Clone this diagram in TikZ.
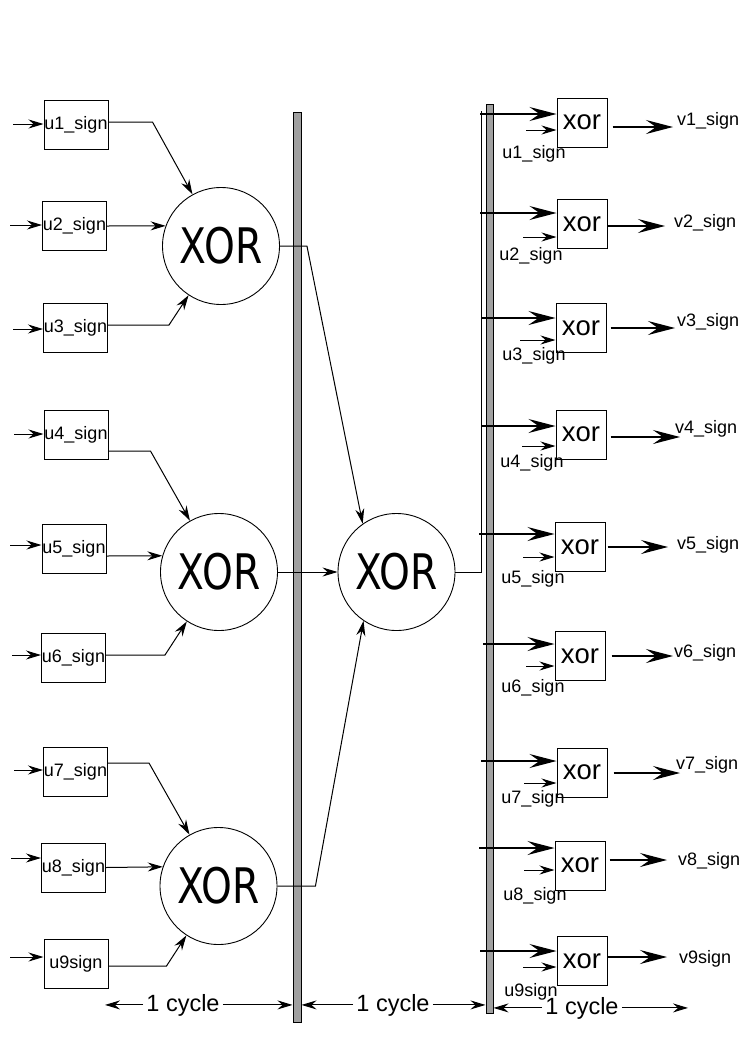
\documentclass[tikz,border=0pt]{standalone}
\usepackage{fontspec}
\setmainfont{Liberation Sans}
\newfontfamily\xorfont[FakeStretch=0.8]{DejaVu Sans}
\usetikzlibrary{arrows.meta}
\definecolor{bargray}{RGB}{160,160,160}
\begin{document}
\begin{tikzpicture}[x=1pt,y=-1pt,
  lbl/.style={font=\fontsize{18}{18}\selectfont, inner sep=0pt},
  inbox/.style={draw, line width=1pt, minimum width=64pt, minimum height=49pt, inner sep=0pt, font=\fontsize{18}{18}\selectfont},
  gate/.style={draw, circle, line width=0.9pt, minimum size=117pt, inner sep=0pt, font=\xorfont\fontsize{49}{49}\selectfont},
  xbox/.style={draw, line width=1pt, minimum width=50pt, minimum height=49pt, inner sep=0pt, font=\fontsize{27.5}{27.5}\selectfont},
  bar/.style={draw, line width=1pt, fill=bargray, inner sep=0pt},
  cyc/.style={font=\fontsize{23.5}{23.5}\selectfont, inner sep=3pt},
  conn/.style={line width=1pt},
  sa/.style={conn, -{Stealth[length=15pt,width=9pt,inset=5pt]}},
  ba/.style={conn, line width=1.3pt, -{Stealth[length=27pt,width=14pt,inset=10pt]}},
  ca/.style={conn, -{Stealth[length=15pt,width=9pt,inset=5pt]}}
]
\useasboundingbox (0,0) rectangle (745,1053);

% register bars
\node[bar, minimum width=8pt, minimum height=910pt] (lb) at (297,567) {};
\node[bar, minimum width=7pt, minimum height=909pt] (rb) at (489.5,558.5) {};

% input boxes
\node[inbox] (b1) at (76,124.5) {u1\_sign};
\node[inbox] (b2) at (74.5,226) {u2\_sign};
\node[inbox] (b3) at (75.5,328) {u3\_sign};
\node[inbox] (b4) at (76,435) {u4\_sign};
\node[inbox] (b5) at (74,548.5) {u5\_sign};
\node[inbox] (b6) at (73.5,657.5) {u6\_sign};
\node[inbox] (b7) at (75.5,772) {u7\_sign};
\node[inbox] (b8) at (73.5,867.5) {u8\_sign};
\node[inbox] (b9) at (76,963.5) {u9sign};

% gates
\node[gate] (c1) at (221,246) {XOR};
\node[gate] (c2) at (219,572) {XOR};
\node[gate] (c3) at (218.5,886) {XOR};
\node[gate] (cm) at (396.5,572) {XOR};

% input arrows
\coordinate (i1) at (13,124);
\coordinate (i2) at (10,225);
\coordinate (i3) at (13,329);
\coordinate (i4) at (14,434);
\coordinate (i5) at (10,545);
\coordinate (i6) at (12,655);
\coordinate (i7) at (14,770);
\coordinate (i8) at (11,858);
\coordinate (i9) at (10,957);
\foreach \k in {1,...,9} {\draw[sa] (i\k) -- (i\k -| b\k.west);}

% boxes to gates
\draw[sa] ([yshift=2.5pt]b1.east) -- ++(44,0) -- (c1);
\draw[sa] (b2.east) -- (c1.160);
\draw[sa] ([yshift=3pt]b3.east) -- ++(61,0) -- (c1);
\draw[sa] ([yshift=-16pt]b4.east) -- ++(42,0) -- (c2);
\draw[sa] ([yshift=-7.5pt]b5.east) -- (c2.164);
\draw[sa] ([yshift=2.5pt]b6.east) -- ++(59,0) -- (c2);
\draw[sa] ([yshift=9pt]b7.east) -- ++(41,0) -- (c3);
\draw[sa] (b8.east) -- (c3.161);
\draw[sa] ([yshift=-2.5pt]b9.east) -- ++(58,0) -- (c3);

% gates to middle gate
\draw[sa] (c1.east) -- ++(27,0) -- (cm.125);
\draw[sa] (c2.east) -- (cm.west);
\draw[sa] (c3.east) -- ++(38,0) -- (cm.236);

% middle output bus
\coordinate (bj) at (481,572);
\coordinate (bt) at (481,111);
\draw[conn] (cm.east) -- (bj) -- (bt);

% right xor boxes
\node[xbox] (x1) at (582,122.5) {xor};
\node[xbox] (x2) at (582,224) {xor};
\node[xbox] (x3) at (581,328) {xor};
\node[xbox] (x4) at (581,434.5) {xor};
\node[xbox] (x5) at (580,547) {xor};
\node[xbox] (x6) at (580,656) {xor};
\node[xbox] (x7) at (582,772.5) {xor};
\node[xbox] (x8) at (580,865.5) {xor};
\node[xbox] (x9) at (582,961) {xor};

% bus wires
\coordinate (w1) at (480,114);
\coordinate (w2) at (480,213);
\coordinate (w3) at (482,318);
\coordinate (w4) at (481,426);
\coordinate (w5) at (479,534);
\coordinate (w6) at (483,644);
\coordinate (w7) at (481,761);
\coordinate (w8) at (479,848);
\coordinate (w9) at (480,951);
\foreach \k in {1,...,9} {\draw[ba] (w\k) -- (w\k -| x\k.west);}

% second inputs
\coordinate (s1) at (526,130);
\coordinate (s2) at (523,237);
\coordinate (s3) at (520,340);
\coordinate (s4) at (522,446);
\coordinate (s5) at (523,557);
\coordinate (s6) at (526,666);
\coordinate (s7) at (524,783);
\coordinate (s8) at (524,870);
\coordinate (s9) at (523,967);
\foreach \k in {1,...,9} {\draw[sa] (s\k) -- (s\k -| x\k.west);}

% labels of second inputs
\node[lbl, anchor=base] (n1) at (534,158) {u1\_sign};
\node[lbl, anchor=base] (n2) at (531,260) {u2\_sign};
\node[lbl, anchor=base] (n3) at (534,360) {u3\_sign};
\node[lbl, anchor=base] (n4) at (532,467) {u4\_sign};
\node[lbl, anchor=base] (n5) at (533,583) {u5\_sign};
\node[lbl, anchor=base] (n6) at (533,692) {u6\_sign};
\node[lbl, anchor=base] (n7) at (533,803) {u7\_sign};
\node[lbl, anchor=base] (n8) at (535,900) {u8\_sign};
\node[lbl, anchor=base] (n9) at (531,996) {u9sign};

% outputs
\coordinate (o1) at (673,127);
\coordinate (o2) at (665,226);
\coordinate (o3) at (675,328);
\coordinate (o4) at (680,437);
\coordinate (o5) at (668,547);
\coordinate (o6) at (673,656);
\coordinate (o7) at (680,773);
\coordinate (o8) at (667,860);
\coordinate (o9) at (667,957);
\draw[ba] (x1.east |- o1) ++(5,0) -- (o1);
\draw[ba] (x2.east |- o2) -- (o2);
\draw[ba] (x3.east |- o3) ++(4,0) -- (o3);
\draw[ba] (x4.east |- o4) ++(4,0) -- (o4);
\draw[ba] (x5.east |- o5) ++(2,0) -- (o5);
\draw[ba] (x6.east |- o6) ++(6,0) -- (o6);
\draw[ba] (x7.east |- o7) ++(6,0) -- (o7);
\draw[ba] (x8.east |- o8) ++(4,0) -- (o8);
\draw[ba] (x9.east |- o9) -- (o9);

\node[lbl, anchor=base west] (v1) at (677,125) {v1\_sign};
\node[lbl, anchor=base west] (v2) at (674,227) {v2\_sign};
\node[lbl, anchor=base west] (v3) at (677,326) {v3\_sign};
\node[lbl, anchor=base west] (v4) at (675,433) {v4\_sign};
\node[lbl, anchor=base west] (v5) at (677,549) {v5\_sign};
\node[lbl, anchor=base west] (v6) at (674,657) {v6\_sign};
\node[lbl, anchor=base west] (v7) at (676,769) {v7\_sign};
\node[lbl, anchor=base west] (v8) at (678,865) {v8\_sign};
\node[lbl, anchor=base west] (v9) at (679,963) {v9sign};

% cycle labels
\node[cyc, anchor=base] (cy1) at (183,1011) {1 cycle};
\node[cyc, anchor=base] (cy2) at (393,1011) {1 cycle};
\node[cyc, anchor=base] (cy3) at (582,1014) {1 cycle};
\coordinate (k1) at (105,1005);
\coordinate (k3) at (688,1005);
\draw[ca] (cy1.west) -- (cy1.west -| k1);
\draw[ca] (cy1.east) -- (cy1.east -| lb.west);
\draw[ca] (cy2.west) -- (cy2.west -| lb.east);
\draw[ca] (cy2.east) -- (cy2.east -| rb.west);
\draw[ca] (cy3.west) -- (cy3.west -| rb.east);
\draw[ca] (cy3.east) -- (cy3.east -| k3);
\end{tikzpicture}
\end{document}
